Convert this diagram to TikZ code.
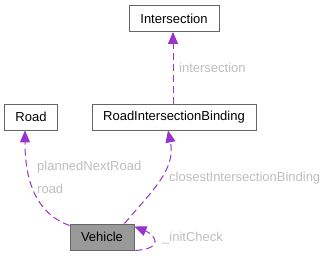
\documentclass[tikz,border=0pt]{standalone}
\usepackage{fontspec}
\setmainfont{Liberation Sans}
\usetikzlibrary{arrows.meta}
\definecolor{edgepurple}{HTML}{9A32CD}
\definecolor{labelgrey}{HTML}{BEBEBE}
\definecolor{boxgrey}{HTML}{666666}
\definecolor{activegrey}{HTML}{999999}
\begin{document}
\begin{tikzpicture}[
    x=1pt, y=1pt,
    font=\fontsize{13}{15}\selectfont,
    cls/.style={rectangle, draw=boxgrey, fill=white, line width=0.9pt, inner sep=0pt, align=center, minimum height=26pt},
    current/.style={cls, fill=activegrey},
    uses/.style={-{Triangle[length=12pt,width=10pt]}, draw=edgepurple, line width=1pt, dash pattern=on 7pt off 4pt},
    lbl/.style={text=labelgrey, anchor=west, inner sep=0pt}
]
\useasboundingbox (0,0) rectangle (332,-256);

\node[cls, minimum width=90pt] (inter) at (174,-18.5) {Intersection};
\node[cls, minimum width=53pt] (road) at (31,-117) {Road};
\node[cls, minimum width=164pt] (rib) at (174,-117) {RoadIntersectionBinding};
\node[current, minimum width=64pt] (veh) at (102,-237) {Vehicle};

\draw[uses] ([xshift=-1pt]rib.north) -- ([xshift=-1pt]inter.south);
\draw[uses] ([yshift=-2pt]veh.north west) to[out=160, in=-90] ([xshift=-6pt]road.south);
\draw[uses] ([xshift=-10pt]veh.north east) to[out=50, in=-78] ([xshift=-6pt]rib.south);
\draw[uses] ([xshift=1pt]veh.south east) .. controls +(30,2) and +(20,-8) .. ([yshift=-3pt]veh.north east);

\node[lbl] (lintersection) at (179,-68) {intersection};
\node[lbl] (lplanned) at (37,-167) {plannedNextRoad};
\node[lbl] (lroad) at (37,-189) {road};
\node[lbl] (lclosest) at (169,-178) {closestIntersectionBinding};
\node[lbl] (linit) at (162,-238) {\_initCheck};
\end{tikzpicture}
\end{document}
